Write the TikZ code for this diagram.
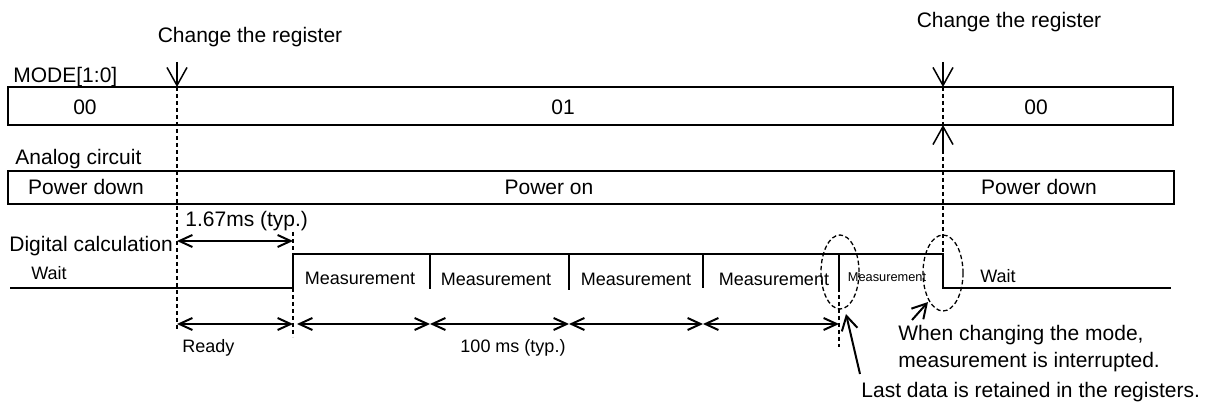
\documentclass[tikz,border=0pt]{standalone}
\usepackage{fontspec}
\setmainfont{Liberation Sans}
\usetikzlibrary{arrows.meta}

\begin{document}
\begin{tikzpicture}[x=0.5pt, y=-0.5pt,
         txt/.style={inner sep=0pt, font=\fontsize{10.5}{12}\selectfont},
         small/.style={inner sep=0pt, font=\fontsize{9}{11}\selectfont},
         tiny/.style={inner sep=0pt, font=\fontsize{6.4}{8}\selectfont},
         bar/.style={line width=0.8pt},
         wave/.style={line width=1pt},
         guide/.style={line width=0.65pt, dash pattern=on 2.2pt off 1.3pt},
         dim/.style={line width=1pt, {Straight Barb[length=6.5pt,width=6pt]}-{Straight Barb[length=6.5pt,width=6pt]}},
         regarrow/.style={line width=0.75pt, -{Straight Barb[length=9pt,width=10pt]}},
         hint/.style={line width=1pt, -{Straight Barb[length=7pt,width=8pt]}}]
         \useasboundingbox (0,0) rectangle (1211,406);
         \node [txt, anchor=base] (ChgL) at (250, 43) {Change the register};
         \node [txt, anchor=base] (ChgR) at (1009, 28) {Change the register};
         \node [txt, anchor=base west] (ModeLbl) at (13, 83) {MODE[1:0]};
         \draw [bar] (8, 87) rectangle (1173, 125);
         \node [txt, anchor=base] (M00a) at (85, 115) {00};
         \node [txt, anchor=base] (M01) at (563, 115) {01};
         \node [txt, anchor=base] (M00b) at (1036, 115) {00};
         \node [txt, anchor=base west] (AnaLbl) at (15, 165) {Analog circuit};
         \draw [bar] (8, 171) rectangle (1174, 204);
         \node [txt, anchor=base] (PDa) at (86, 195) {Power down};
         \node [txt, anchor=base] (PON) at (549, 195) {Power on};
         \node [txt, anchor=base] (PDb) at (1039, 195) {Power down};
         \node [txt, anchor=base west] (Tr) at (185, 227) {1.67ms (typ.)};
         \node [txt, anchor=base west] (DigLbl) at (9, 252) {Digital calculation};
         \node [small, anchor=base west] (WaitA) at (31, 280) {Wait};
         \node [small, anchor=base] (Ms1) at (360, 285) {Measurement};
         \node [small, anchor=base] (Ms2) at (496, 286) {Measurement};
         \node [small, anchor=base] (Ms3) at (636, 286) {Measurement};
         \node [small, anchor=base] (Ms4) at (774, 286) {Measurement};
         \node [tiny, anchor=base] (Ms5) at (887, 282) {Measurement};
         \node [small, anchor=base west] (WaitB) at (980, 283) {Wait};
         \node [small, anchor=base west] (Ready) at (182, 353) {Ready};
         \node [small, anchor=base] (Typ) at (513, 353) {100 ms (typ.)};
         \node [txt, anchor=base west] (Intr1) at (898, 341) {When changing the mode,};
         \node [txt, anchor=base west] (Intr2) at (898, 368) {measurement is interrupted.};
         \node [txt, anchor=base west] (Last) at (861, 398) {Last data is retained in the registers.};
         \coordinate (LA) at (177, 62);
         \coordinate (LB) at (177, 87);
         \coordinate (LC) at (177, 331);
         \coordinate (RA) at (943, 62);
         \coordinate (RB) at (943, 87);
         \coordinate (RC) at (943, 150);
         \coordinate (RD) at (943, 125);
         \coordinate (RE) at (943, 254);
         \coordinate (W0) at (10, 288);
         \coordinate (W1) at (293, 288);
         \coordinate (W2) at (293, 254);
         \coordinate (W3) at (943, 254);
         \coordinate (W4) at (943, 288);
         \coordinate (W5) at (1171, 288);
         \coordinate (S1) at (430, 254);
         \coordinate (S1b) at (430, 289);
         \coordinate (S2) at (569, 254);
         \coordinate (S2b) at (569, 290);
         \coordinate (S3) at (703, 254);
         \coordinate (S3b) at (703, 288);
         \coordinate (S4) at (839, 254);
         \coordinate (S4b) at (839, 288);
         \coordinate (S4c) at (839, 347);
         \coordinate (G2a) at (293, 232);
         \coordinate (G2b) at (293, 337);
         \coordinate (T0) at (177, 241);
         \coordinate (T1) at (293, 241);
         \coordinate (D0) at (177, 324);
         \coordinate (D1) at (293, 324);
         \coordinate (D1b) at (297, 324);
         \coordinate (D2) at (430, 324);
         \coordinate (D3) at (569, 324);
         \coordinate (D4) at (703, 324);
         \coordinate (D5) at (839, 324);
         \coordinate (E1) at (840, 272);
         \coordinate (E2) at (943, 273);
         \coordinate (P1) at (860, 374);
         \coordinate (P1t) at (846, 314);
         \coordinate (P2) at (912, 320);
         \coordinate (P2t) at (928, 302);
         \draw [guide] (LB) -- (LC);
         \draw [guide] (RB) -- (RE);
         \draw [guide] (G2a) -- (G2b);
         \draw [guide] (S4b) -- (S4c);
         \draw [regarrow] (LA) -- (LB);
         \draw [regarrow] (RA) -- (RB);
         \draw [regarrow] (RC) -- (RD);
         \draw [wave] (W0) -- (W1) -- (W2) -- (W3) -- (W4) -- (W5);
         \draw [wave] (S1) -- (S1b);
         \draw [wave] (S2) -- (S2b);
         \draw [wave] (S3) -- (S3b);
         \draw [wave] (S4) -- (S4b);
         \draw [dim] (T0) -- (T1);
         \draw [dim] (D0) -- (D1);
         \draw [dim] (D1b) -- (D2);
         \draw [dim] (D2) -- (D3);
         \draw [dim] (D3) -- (D4);
         \draw [dim] (D4) -- (D5);
         \draw [guide] (E1) ellipse [x radius=9.5pt, y radius=18.5pt];
         \draw [guide] (E2) ellipse [x radius=10pt, y radius=19pt];
         \draw [hint] (P1) -- (P1t);
         \draw [hint] (P2) -- (P2t);
\end{tikzpicture}
\end{document}
